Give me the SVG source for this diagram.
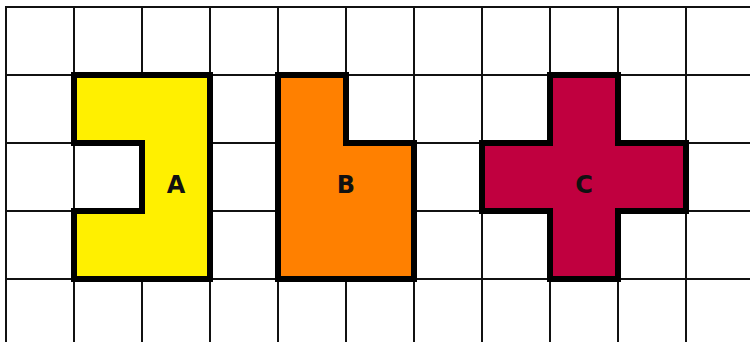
<svg xmlns="http://www.w3.org/2000/svg" width="750" height="342" viewBox="0 0 750 342">
<style>
.grid line{stroke:#111;stroke-width:2}
.shape{stroke:#000;stroke-width:6;stroke-linejoin:miter}
.lbl{font-family:"DejaVu Sans",sans-serif;font-weight:bold;font-size:24px;fill:#111;text-anchor:middle;dominant-baseline:central}
</style>
<rect width="750" height="342" fill="#fff"/>
<g id="grid" class="grid">
<line x1="6" y1="7" x2="6" y2="342"/><line x1="74" y1="7" x2="74" y2="342"/><line x1="142" y1="7" x2="142" y2="342"/><line x1="210" y1="7" x2="210" y2="342"/><line x1="278" y1="7" x2="278" y2="342"/><line x1="346" y1="7" x2="346" y2="342"/><line x1="414" y1="7" x2="414" y2="342"/><line x1="482" y1="7" x2="482" y2="342"/><line x1="550" y1="7" x2="550" y2="342"/><line x1="618" y1="7" x2="618" y2="342"/><line x1="686" y1="7" x2="686" y2="342"/>
<line x1="5" y1="7" x2="750" y2="7"/><line x1="5" y1="75" x2="750" y2="75"/><line x1="5" y1="143" x2="750" y2="143"/><line x1="5" y1="211" x2="750" y2="211"/><line x1="5" y1="279" x2="750" y2="279"/>
</g>
<g id="A">
<path class="shape" fill="#FFF000" d="M74,75H210V279H74V211H142V143H74Z"/>
<text class="lbl" x="176" y="185">A</text>
</g>
<g id="B">
<path class="shape" fill="#FF8000" d="M278,75H346V143H414V279H278Z"/>
<text class="lbl" x="346" y="185">B</text>
</g>
<g id="C">
<path class="shape" fill="#C0003F" d="M550,75H618V143H686V211H618V279H550V211H482V143H550Z"/>
<text class="lbl" x="584" y="185">C</text>
</g>
<g id="connectors"/>
</svg>
